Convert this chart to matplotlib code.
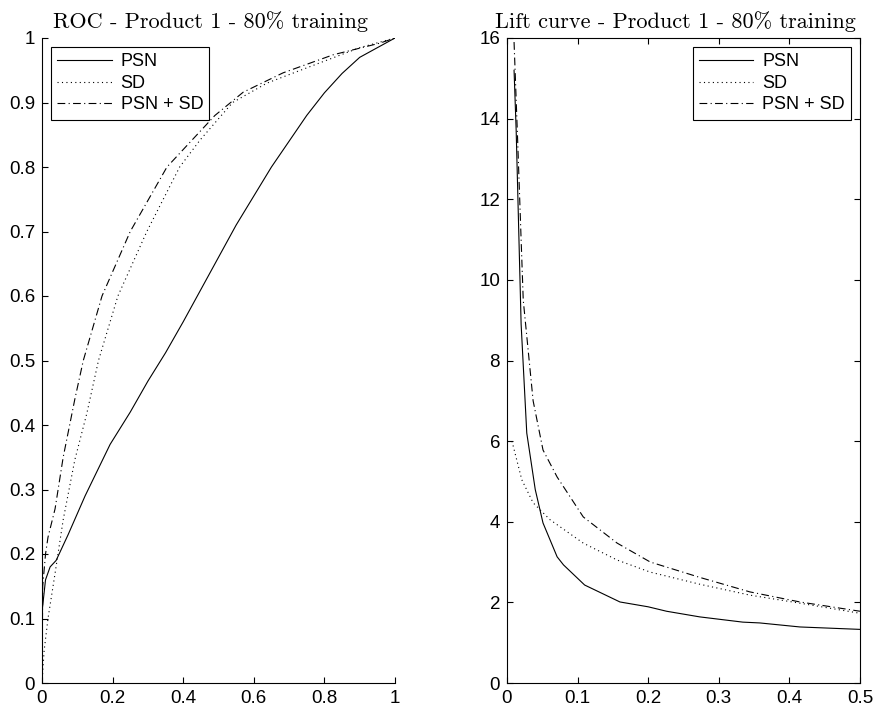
import matplotlib
matplotlib.use("Agg")
import matplotlib.pyplot as plt
from matplotlib.ticker import FixedLocator, FuncFormatter

plt.rcParams['font.family'] = ['Liberation Sans', 'DejaVu Sans']

# ROC data
roc_psn_x = [0, 0, 0.01, 0.023, 0.04, 0.074, 0.122, 0.193, 0.25, 0.30, 0.35, 0.40, 0.45, 0.50, 0.55, 0.60, 0.65, 0.70, 0.75, 0.80, 0.85, 0.90, 0.95, 1.0]
roc_psn_y = [0, 0.11, 0.16, 0.18, 0.19, 0.23, 0.29, 0.37, 0.42, 0.468, 0.512, 0.56, 0.61, 0.66, 0.71, 0.755, 0.80, 0.84, 0.88, 0.915, 0.945, 0.97, 0.985, 1.0]

roc_sd_x = [0, 0.006, 0.017, 0.037, 0.06, 0.093, 0.127, 0.16, 0.215, 0.297, 0.39, 0.448, 0.54, 0.637, 0.78, 0.90, 1.0]
roc_sd_y = [0, 0.05, 0.10, 0.17, 0.253, 0.346, 0.418, 0.50, 0.60, 0.70, 0.80, 0.842, 0.90, 0.93, 0.96, 0.985, 1.0]

roc_both_x = [0, 0.002, 0.01, 0.017, 0.037, 0.06, 0.093, 0.117, 0.17, 0.25, 0.354, 0.49, 0.57, 0.683, 0.825, 0.957, 1.0]
roc_both_y = [0, 0.15, 0.20, 0.226, 0.27, 0.35, 0.44, 0.50, 0.60, 0.70, 0.80, 0.88, 0.916, 0.946, 0.974, 0.992, 1.0]

# Lift data
lift_psn_x = [0.01, 0.013, 0.02, 0.028, 0.04, 0.051, 0.071, 0.08, 0.11, 0.16, 0.2, 0.226, 0.273, 0.334, 0.358, 0.415, 0.5]
lift_psn_y = [15.2, 13.7, 8.9, 6.2, 4.8, 3.97, 3.13, 2.93, 2.43, 2.01, 1.89, 1.78, 1.64, 1.51, 1.49, 1.39, 1.33]

lift_sd_x = [0.007, 0.021, 0.037, 0.061, 0.108, 0.156, 0.203, 0.273, 0.344, 0.415, 0.5]
lift_sd_y = [6.0, 5.04, 4.47, 4.05, 3.47, 3.05, 2.75, 2.45, 2.18, 1.98, 1.73]

lift_both_x = [0.01, 0.015, 0.023, 0.037, 0.051, 0.071, 0.108, 0.156, 0.203, 0.273, 0.344, 0.415, 0.5]
lift_both_y = [15.9, 13.5, 9.5, 7.0, 5.78, 5.11, 4.12, 3.47, 3.0, 2.62, 2.26, 2.01, 1.78]

labels = ['PSN', 'SD', 'PSN + SD']
titles = ['ROC - Product 1 - 80% training', 'Lift curve - Product 1 - 80% training']

fig = plt.figure(figsize=(8.78, 7.12), dpi=100)
ax1 = fig.add_axes([42/878, 29/712, 353/878, 645/712])
ax2 = fig.add_axes([507/878, 29/712, 353/878, 645/712])

lw = 0.8
dot = (0, (1, 3))
dashdot = (0, (7, 3, 1, 3))
ax1.plot(roc_psn_x, roc_psn_y, color='black', lw=lw, ls='-', label=labels[0])
ax1.plot(roc_sd_x, roc_sd_y, color='black', lw=lw, ls=dot, label=labels[1])
ax1.plot(roc_both_x, roc_both_y, color='black', lw=lw, ls=dashdot, label=labels[2])

ax2.plot(lift_psn_x, lift_psn_y, color='black', lw=lw, ls='-', label=labels[0])
ax2.plot(lift_sd_x, lift_sd_y, color='black', lw=lw, ls=dot, label=labels[1])
ax2.plot(lift_both_x, lift_both_y, color='black', lw=lw, ls=dashdot, label=labels[2])

def fmt(v, pos):
    s = ('%.1f' % v)
    if s.endswith('.0'):
        s = s[:-2]
    return s

ax1.set_xlim(0, 1)
ax1.set_ylim(0, 1)
ax1.xaxis.set_major_locator(FixedLocator([0, 0.2, 0.4, 0.6, 0.8, 1.0]))
ax1.yaxis.set_major_locator(FixedLocator([i / 10 for i in range(11)]))
ax1.xaxis.set_major_formatter(FuncFormatter(fmt))
ax1.yaxis.set_major_formatter(FuncFormatter(fmt))
ax1.spines['top'].set_visible(False)
ax1.spines['right'].set_visible(False)
ax1.tick_params(direction='in', length=4, width=0.8, labelsize=13.5, pad=5)

ax2.set_xlim(0, 0.5)
ax2.set_ylim(0, 16)
ax2.xaxis.set_major_locator(FixedLocator([0, 0.1, 0.2, 0.3, 0.4, 0.5]))
ax2.yaxis.set_major_locator(FixedLocator(list(range(0, 17, 2))))
ax2.xaxis.set_major_formatter(FuncFormatter(fmt))
ax2.tick_params(direction='in', length=4, width=0.8, labelsize=13.5, pad=5,
                top=True, right=True)

for ax in (ax1, ax2):
    for sp in ax.spines.values():
        sp.set_linewidth(0.8)

ax1.set_title(titles[0], family='cmr10', fontsize=16, x=0.477, pad=7)
ax2.set_title(titles[1], family='cmr10', fontsize=16, x=0.477, pad=7)

leg_kw = dict(frameon=True, fancybox=False, shadow=False, fontsize=13,
              handlelength=3.0, handletextpad=0.5, labelspacing=0.25,
              borderpad=0.35, borderaxespad=0.5, framealpha=1)
l1 = ax1.legend(loc='upper left', **leg_kw)
l2 = ax2.legend(loc='upper right', **leg_kw)
for l in (l1, l2):
    l.get_frame().set_edgecolor('black')
    l.get_frame().set_linewidth(0.8)

fig.savefig('out.png', dpi=100)
